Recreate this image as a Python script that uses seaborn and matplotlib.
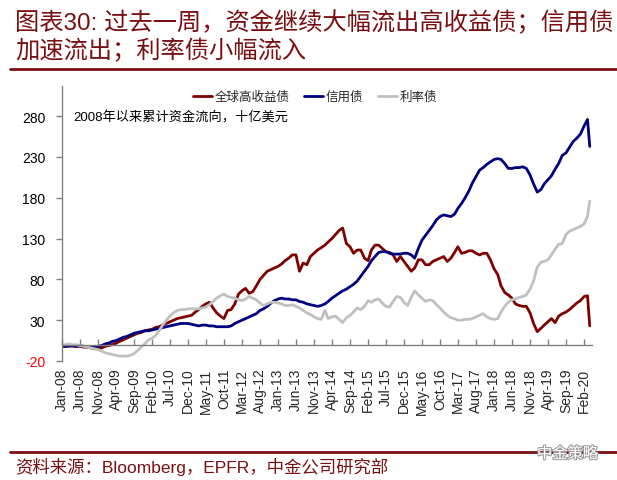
import numpy as np
import pandas as pd
import matplotlib
matplotlib.use('Agg')
import matplotlib.pyplot as plt
import matplotlib.dates as mdates
import matplotlib.patheffects as pe
import seaborn as sns

# ==========================================
# DATA (monthly + last week)
# ==========================================
dates = list(pd.date_range('2008-01-01', '2020-03-01', freq='MS')) + [pd.Timestamp('2020-03-20')]

high_yield = [
    -2, -2, -1, -2, -2, -2, -3, -3, -4, -5,
    -5, -4, -2, -1, 0, 2, 4, 6, 8, 10,
    12, 14, 15, 17, 18, 19, 21, 22, 24, 26,
    28, 30, 32, 33, 34, 35, 36, 40, 43, 47,
    50, 52, 45, 39, 35, 32, 42, 43, 50, 62,
    66, 69, 63, 65, 72, 80, 85, 90, 92, 94,
    96, 99, 103, 106, 110, 110, 90, 100, 98, 108,
    112, 116, 119, 122, 126, 130, 135, 140, 143, 124,
    120, 112, 116, 116, 106, 103, 116, 122, 122, 118,
    114, 113, 110, 102, 108, 102, 96, 90, 94, 104,
    104, 98, 98, 102, 104, 106, 108, 102, 106, 113,
    120, 112, 113, 115, 115, 112, 110, 112, 112, 104,
    93, 86, 72, 64, 61, 57, 50, 48, 47, 47,
    39, 26, 16, 20, 24, 28, 32, 27, 35, 38,
    40, 43, 47, 51, 54, 59, 60,
    23,
]

credit = [
    -2, -2, -2, -1, -2, -1, -2, -3, -3, -3,
    -2, -1, 1, 2, 4, 5, 7, 9, 10, 12,
    14, 15, 16, 17, 17, 18, 19, 20, 21, 22,
    23, 24, 25, 26, 26, 26, 25, 24, 23, 24,
    24, 23, 23, 22, 22, 22, 22, 23, 26, 28,
    30, 32, 34, 36, 38, 42, 44, 47, 51, 54,
    56, 57, 56, 56, 55, 55, 53, 52, 50, 49,
    48, 47, 48, 50, 53, 57, 60, 63, 66, 68,
    71, 74, 78, 84, 90, 96, 103, 108, 113, 114,
    114, 112, 111, 111, 111, 112, 112, 110, 106, 118,
    128, 134, 140, 146, 153, 157, 159, 158, 157, 160,
    167, 173, 180, 188, 198, 206, 214, 217, 221, 224,
    227, 228, 227, 222, 216, 216, 217, 217, 218, 216,
    208, 197, 187, 190, 197, 202, 207, 215, 222, 232,
    235, 242, 249, 253, 258, 268, 276,
    243,
]

rates = [
    0, 0, 1, 0, 0, -1, -2, -3, -4, -5,
    -6, -8, -10, -11, -12, -13, -14, -14, -14, -13,
    -11, -7, -3, 1, 6, 8, 11, 17, 24, 30,
    35, 39, 42, 43, 43, 44, 44, 44, 44, 45,
    46, 49, 53, 57, 60, 62, 59, 58, 57, 55,
    54, 56, 59, 57, 55, 51, 48, 50, 52, 52,
    51, 50, 48, 48, 49, 47, 45, 42, 39, 37,
    34, 32, 31, 42, 32, 34, 35, 31, 27, 33,
    36, 40, 45, 43, 47, 54, 52, 55, 56, 51,
    47, 46, 53, 59, 58, 52, 48, 58, 66, 61,
    57, 53, 55, 54, 49, 45, 40, 36, 33, 32,
    30, 30, 31, 31, 32, 34, 36, 38, 34, 32,
    31, 32, 40, 47, 52, 55, 56, 58, 59, 61,
    68, 78, 95, 101, 102, 104, 110, 117, 123, 124,
    135, 139, 141, 143, 145, 148, 157,
    176,
]

series_names = ['全球高收益债', '信用债', '利率债']
series_colors = ['#800000', '#000080', '#C0C0C0']
y_ticks = [-20, 30, 80, 130, 180, 230, 280]
x_ticks = pd.date_range('2008-01-01', '2020-02-01', freq='5MS')

TITLE_1 = "图表30: 过去一周，资金继续大幅流出高收益债；信用债"
TITLE_2 = "加速流出；利率债小幅流入"
NOTE = "2008年以来累计资金流向，十亿美元"
SOURCE = "资料来源：Bloomberg，EPFR，中金公司研究部"
BRAND = "中金策略"
DARK_RED = '#7a0f12'
GREY = '#808080'

# ==========================================
# STYLE
# ==========================================
sns.set_theme(style='white')
plt.rcParams['font.family'] = ['Liberation Sans', 'Noto Sans CJK SC']
plt.rcParams['axes.unicode_minus'] = False

df = pd.concat([
    pd.DataFrame({'date': dates, 'value': vals, 'series': name})
    for name, vals in zip(series_names, [high_yield, credit, rates])
], ignore_index=True)

# ==========================================
# PLOT
# ==========================================
fig = plt.figure(figsize=(6.17, 4.81), dpi=100)
ax = fig.add_axes([62 / 617, 1 - 362 / 481, 530 / 617, 275 / 481])

sns.lineplot(data=df, x='date', y='value', hue='series', hue_order=series_names,
             palette=dict(zip(series_names, series_colors)), linewidth=2.0,
             estimator=None, legend=False, ax=ax)

ax.set_ylim(-20, 317)
ax.set_xlim(pd.Timestamp('2008-01-01'), pd.Timestamp('2020-04-08'))
ax.set_xlabel("")
ax.set_ylabel("")

for side in ['top', 'right']:
    ax.spines[side].set_visible(False)
ax.spines['bottom'].set_position(('data', 0))
for side in ['bottom', 'left']:
    ax.spines[side].set_color(GREY)
    ax.spines[side].set_linewidth(1.0)

ax.set_yticks(y_ticks)
ax.set_xticks(x_ticks)
ax.xaxis.set_major_formatter(mdates.DateFormatter('%b-%y'))
ax.tick_params(axis='x', direction='in', length=4, width=1, color=GREY,
               pad=16.5, labelsize=10, labelrotation=90, bottom=True)
ax.tick_params(axis='y', direction='out', length=4, width=1, color=GREY,
               pad=8, labelsize=10, left=True)
for lbl, val in zip(ax.get_yticklabels(), y_ticks):
    lbl.set_color('red' if val < 0 else 'black')

handles = ax.get_lines()[:3]
ax.legend(handles, series_names, loc='upper center', bbox_to_anchor=(0.477, 1.0),
          ncol=3, frameon=False, fontsize=9, handlelength=1.5, handletextpad=0.2,
          columnspacing=1.2, borderaxespad=0)

ax.text(0.021, 0.887, NOTE, transform=ax.transAxes, fontsize=9.5, color='black', va='center')

# ==========================================
# TITLE, RULES, SOURCE
# ==========================================
fig.text(15 / 617, 1 - 23 / 481, TITLE_1, fontsize=17.5, color=DARK_RED, va='center',
         fontweight='light')
fig.text(15 / 617, 1 - 51 / 481, TITLE_2, fontsize=17.5, color=DARK_RED, va='center',
         fontweight='light')
fig.add_artist(plt.Line2D([10 / 617, 1], [1 - 70 / 481] * 2, color=DARK_RED, lw=2))
fig.add_artist(plt.Line2D([10 / 617, 1], [1 - 453 / 481] * 2, color=DARK_RED, lw=2))
fig.text(15 / 617, 1 - 467 / 481, SOURCE, fontsize=12.5, color=DARK_RED, va='center')
fig.text(598 / 617, 1 - 455 / 481, BRAND, fontsize=11, color='white', ha='right', va='center',
         path_effects=[pe.withStroke(linewidth=1.5, foreground='#9a9a9a')])

fig.savefig('out.png', dpi=100)
